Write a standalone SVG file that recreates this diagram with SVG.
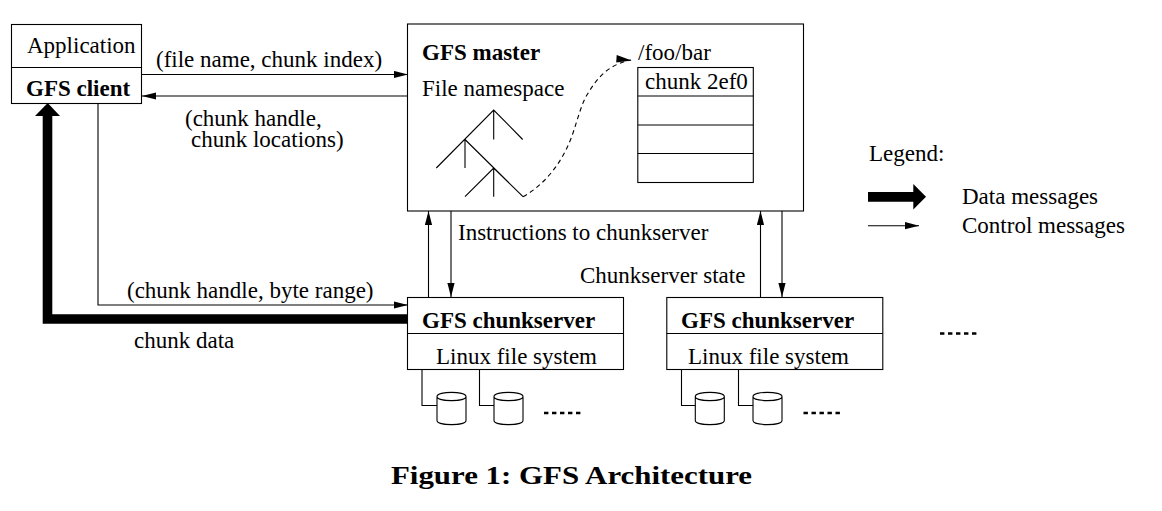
<svg xmlns="http://www.w3.org/2000/svg" width="1162" height="511" viewBox="0 0 1162 511">
  <style>
    text { font-family: "Liberation Serif", "Times New Roman", serif; font-size: 23px; fill: #000; }
    .b { font-weight: bold; }
    .box { fill: #fff; stroke: #000; stroke-width: 1.1; }
    .ln { fill: none; stroke: #000; stroke-width: 1.1; }
    .thin { fill: none; stroke: #000; stroke-width: 1.1; marker-end: url(#head); }
    .dots { fill: none; stroke: #000; stroke-width: 2.4; stroke-dasharray: 4.4 3.6; }
    .cap { font-weight: bold; font-size: 25px; }
  </style>
  <defs>
    <marker id="head" markerUnits="userSpaceOnUse" markerWidth="15" markerHeight="9" refX="14" refY="4" orient="auto">
      <path d="M0 0.4L14 4L0 7.6Z" fill="#000"/>
    </marker>
    <g id="disk">
      <path class="box" d="M0 5.5V29.5C0 35 29 35 29 29.5V5.5C29 0 0 0 0 5.5C0 11 29 11 29 5.5"/>
    </g>
  </defs>
  <rect width="1162" height="511" fill="#fff"/>

  <g id="connectors">
    <path class="thin" d="M142 74.5H408"/>
    <path class="thin" d="M408 96H142"/>
    <path class="thin" d="M98 103V305H408"/>
    <path d="M408 319H47.5V115" fill="none" stroke="#000" stroke-width="9.6"/>
    <path d="M47.7 103L60 116H35Z" fill="#000"/>
    <path class="thin" d="M428.5 297V211"/>
    <path class="thin" d="M451 211V297"/>
    <path class="thin" d="M760.5 297V211"/>
    <path class="thin" d="M782 211V297"/>
  </g>

  <g id="client">
    <rect class="box" x="11.5" y="24.5" width="130" height="79"/>
    <path class="ln" d="M11.5 67.5H141.5"/>
    <text x="27" y="53">Application</text>
    <text class="b" x="26" y="96">GFS client</text>
  </g>

  <g id="master">
    <rect class="box" x="407.5" y="24" width="396" height="187"/>
    <text class="b" x="422" y="60">GFS master</text>
    <text x="422" y="96">File namespace</text>
    <path class="ln" d="M436.3 168L493.7 110L522.7 139.5M493.7 110V139.5M465 139.5V168M465 139.5L523 196.7L493.7 168L465 196.7M493.7 168V196.7"/>
    <path class="ln" d="M523 196.7C546 184 564 160 573 133C578 118 581 106 586 96.5C596 80 606 65 631 60" stroke-dasharray="4.5 3.6"/>
    <path d="M631.7 60.5L616.7 55L616.2 62.5Z" fill="#000"/>
    <text x="638" y="60">/foo/bar</text>
    <rect class="box" x="637.8" y="67.5" width="115.5" height="115"/>
    <path class="ln" d="M637.8 96H753.3M637.8 125H753.3M637.8 153.5H753.3"/>
    <text x="645" y="89">chunk 2ef0</text>
  </g>

  <g id="chunkserver-1">
    <rect class="box" x="407.5" y="297.5" width="216" height="72"/>
    <path class="ln" d="M407.5 333.5H623.5"/>
    <text class="b" x="422" y="327.5">GFS chunkserver</text>
    <text x="436" y="363.5">Linux file system</text>
    <path class="ln" d="M422 370V405.5H437M479.5 370V405.5H494"/>
    <use href="#disk" x="437" y="391"/>
    <use href="#disk" x="494" y="391"/>
    <path class="dots" d="M544 413H581"/>
  </g>

  <g id="chunkserver-2">
    <rect class="box" x="666.8" y="297.5" width="216" height="72"/>
    <path class="ln" d="M666.8 333.5H882.8"/>
    <text class="b" x="681" y="327.5">GFS chunkserver</text>
    <text x="688" y="363.5">Linux file system</text>
    <path class="ln" d="M681.5 370V405.5H695.5M738.5 370V405.5H753"/>
    <use href="#disk" x="695.3" y="391"/>
    <use href="#disk" x="753" y="391"/>
    <path class="dots" d="M803.5 413H840.5"/>
  </g>

  <path class="dots" d="M940 333.5H977"/>

  <g id="labels">
    <text x="156" y="67">(file name, chunk index)</text>
    <text><tspan x="185" y="125.5">(chunk handle,</tspan><tspan x="191" y="147">chunk locations)</tspan></text>
    <text x="458" y="240">Instructions to chunkserver</text>
    <text x="580" y="283">Chunkserver state</text>
    <text x="127" y="298">(chunk handle, byte range)</text>
    <text x="134" y="348">chunk data</text>
  </g>

  <g id="legend">
    <text x="869" y="161">Legend:</text>
    <path d="M868 192H913.3V184L926 196.8L913.3 209.5V201.7H868Z" fill="#000"/>
    <path class="thin" d="M868 225.7H919"/>
    <text x="962" y="204">Data messages</text>
    <text x="962" y="233">Control messages</text>
  </g>

  <text class="cap" x="391" y="484" textLength="361" lengthAdjust="spacingAndGlyphs">Figure 1: GFS Architecture</text>
</svg>
